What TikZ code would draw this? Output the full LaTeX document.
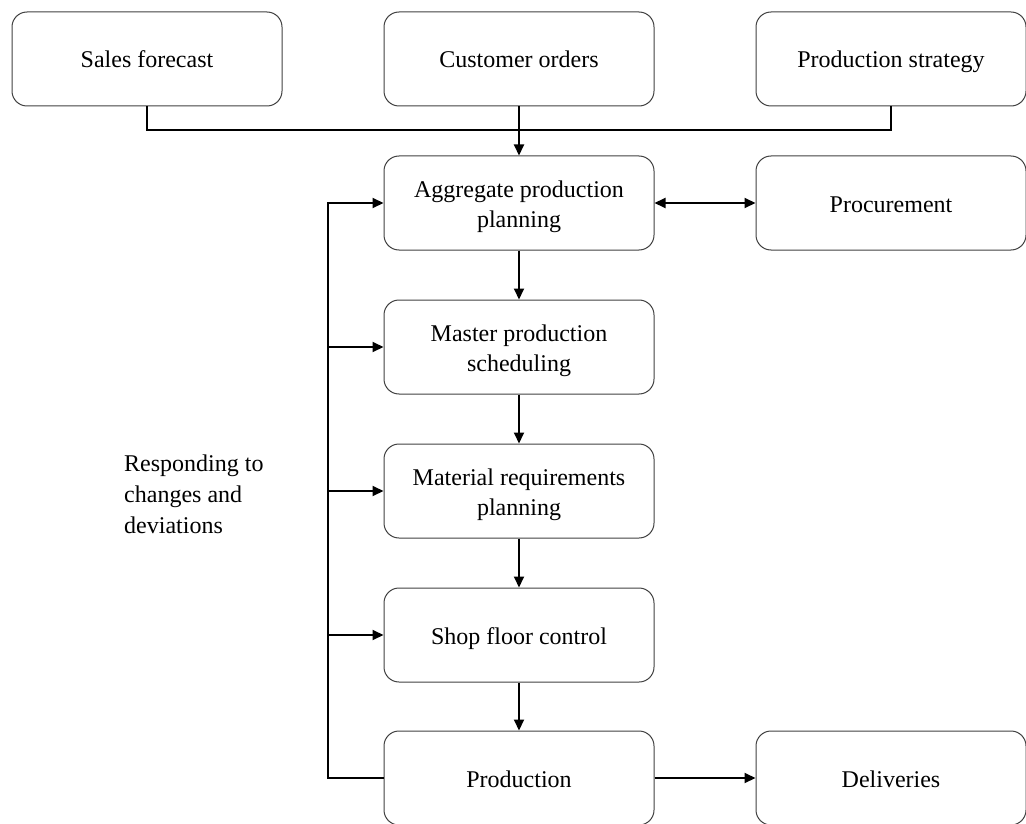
\documentclass[tikz,border=0pt]{standalone}
\usepackage{fontspec}
\setmainfont{Liberation Serif}
\usetikzlibrary{arrows.meta}
\newcommand\tstrut{\rule[-6pt]{0pt}{30pt}}
\begin{document}
\begin{tikzpicture}[x=1pt,y=-1pt,
  box/.style={draw=black!75, line width=1pt, rounded corners=15pt, minimum width=270pt, minimum height=94pt, align=center, inner sep=0pt, font=\fontsize{24}{30}\selectfont},
  conn/.style={line width=2pt, black},
  arr/.style={conn, -{Triangle[length=11pt,width=10pt]}},
  darr/.style={conn, {Triangle[length=11pt,width=10pt]}-{Triangle[length=11pt,width=10pt]}}]
\useasboundingbox (0,0) rectangle (1026,824);
\clip (0,0) rectangle (1026,824);
\node[box] (sf) at (147,59) {\tstrut Sales forecast};
\node[box] (co) at (519,59) {\tstrut Customer orders};
\node[box] (ps) at (891,59) {\tstrut Production strategy};
\node[box] (app) at (519,203) {\tstrut Aggregate production\\\tstrut planning};
\node[box] (proc) at (891,203) {\tstrut Procurement};
\node[box] (mps) at (519,347) {\tstrut Master production\\\tstrut scheduling};
\node[box] (mrp) at (519,491) {\tstrut Material requirements\\\tstrut planning};
\node[box] (sfc) at (519,635) {\tstrut Shop floor control};
\node[box] (prod) at (519,778) {\tstrut Production};
\node[box] (del) at (891,778) {\tstrut Deliveries};
\node[anchor=west, align=left, inner sep=0pt, font=\fontsize{24}{29}\selectfont] (resp) at (124,493) {\tstrut Responding to\\\tstrut changes and\\\tstrut deviations};
\coordinate (fbtop) at (328,203);
\coordinate (fb2) at (328,347);
\coordinate (fb3) at (328,491);
\coordinate (fb4) at (328,635);
\coordinate (fbbot) at (328,778);
\draw[conn] (sf.south) -- ++(0,24) -| (ps.south);
\draw[arr] (co.south) -- (app.north);
\draw[darr] (app.east) -- (proc.west);
\draw[arr] (app.south) -- (mps.north);
\draw[arr] (mps.south) -- (mrp.north);
\draw[arr] (mrp.south) -- (sfc.north);
\draw[arr] (sfc.south) -- (prod.north);
\draw[arr] (prod.east) -- (del.west);
\draw[arr] (prod.west) -- (fbbot) -- (fbtop) -- (app.west);
\draw[arr] (fb2) -- (mps.west);
\draw[arr] (fb3) -- (mrp.west);
\draw[arr] (fb4) -- (sfc.west);
\end{tikzpicture}
\end{document}
